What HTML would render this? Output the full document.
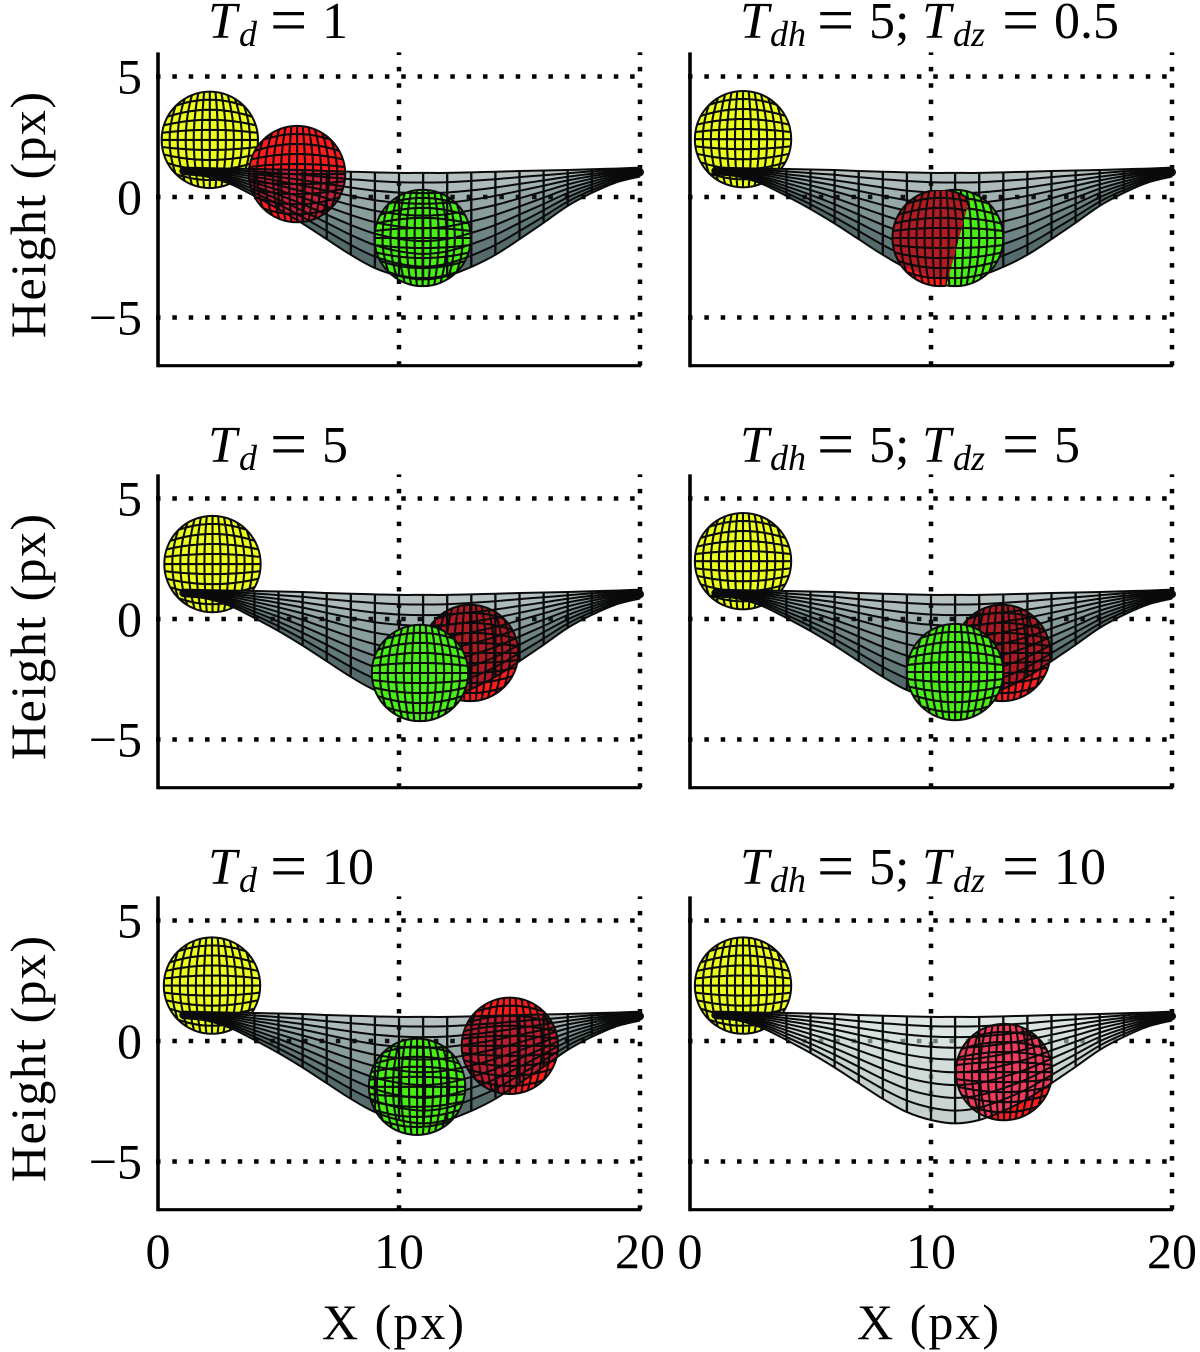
<!DOCTYPE html>
<html>
<head>
<meta charset="utf-8">
<title>Surface and spheres small multiples</title>
<style>
html,body{margin:0;padding:0;background:#fff;width:1200px;height:1352px;overflow:hidden}
svg{display:block}
text{font-family:"Liberation Serif","DejaVu Serif",serif;fill:#000}
.title{font-size:52px}
.title .i{font-style:italic}
.title .s{font-style:italic;font-size:36px}
.title .e{font-size:66px}
.tick{font-size:50px}
.label{font-size:50px}
</style>
</head>
<body>
<svg id="chart" xmlns="http://www.w3.org/2000/svg" width="1200" height="1352" viewBox="0 0 1200 1352">
  <rect width="1200" height="1352" fill="#fff"/>
  <g id="panels"></g>

  <text class="title" y="38"><tspan class="i" x="208">T</tspan><tspan class="s" x="239" dy="8">d</tspan><tspan class="e" x="270" dy="-4">=</tspan><tspan x="322" dy="-4">1</tspan></text>
  <text class="title" y="462"><tspan class="i" x="208">T</tspan><tspan class="s" x="239" dy="8">d</tspan><tspan class="e" x="270" dy="-4">=</tspan><tspan x="322" dy="-4">5</tspan></text>
  <text class="title" y="884"><tspan class="i" x="208">T</tspan><tspan class="s" x="239" dy="8">d</tspan><tspan class="e" x="270" dy="-4">=</tspan><tspan x="322" dy="-4">10</tspan></text>

  <text class="title" y="38"><tspan class="i" x="740">T</tspan><tspan class="s" x="770" dy="8">dh</tspan><tspan class="e" x="817" dy="-4">=</tspan><tspan x="869" dy="-4">5;</tspan><tspan class="i" x="922">T</tspan><tspan class="s" x="953" dy="8">dz</tspan><tspan class="e" x="1002" dy="-4">=</tspan><tspan x="1054" dy="-4">0.5</tspan></text>
  <text class="title" y="462"><tspan class="i" x="740">T</tspan><tspan class="s" x="770" dy="8">dh</tspan><tspan class="e" x="817" dy="-4">=</tspan><tspan x="869" dy="-4">5;</tspan><tspan class="i" x="922">T</tspan><tspan class="s" x="953" dy="8">dz</tspan><tspan class="e" x="1002" dy="-4">=</tspan><tspan x="1054" dy="-4">5</tspan></text>
  <text class="title" y="884"><tspan class="i" x="740">T</tspan><tspan class="s" x="770" dy="8">dh</tspan><tspan class="e" x="817" dy="-4">=</tspan><tspan x="869" dy="-4">5;</tspan><tspan class="i" x="922">T</tspan><tspan class="s" x="953" dy="8">dz</tspan><tspan class="e" x="1002" dy="-4">=</tspan><tspan x="1054" dy="-4">10</tspan></text>

  <text class="label" text-anchor="middle" textLength="246" transform="translate(45 215) rotate(-90)">Height (px)</text>
  <text class="label" text-anchor="middle" textLength="246" transform="translate(45 637) rotate(-90)">Height (px)</text>
  <text class="label" text-anchor="middle" textLength="246" transform="translate(45 1059) rotate(-90)">Height (px)</text>
  <text class="label" text-anchor="middle" textLength="142" x="393" y="1339">X (px)</text>
  <text class="label" text-anchor="middle" textLength="142" x="928" y="1339">X (px)</text>
</svg>

<script>
// ---- chart data ----
const xTickValues = [0, 10, 20];
const yTickValues = [5, 0, -5];
const yTickLabels = ['5', '0', '\u22125'];
const surfaceX = [1,2,3,4,5,6,7,8,9,10,11,12,13,14,15,16,17,18,19,20];
const surfaceTop = [1.22,1.2,1.18,1.16,1.14,1.12,1.08,1.05,1.02,1,1,1,1.02,1.05,1.08,1.1,1.12,1.15,1.18,1.22];
const surfaceBottom = [0.95,0.85,0.54,0.04,-0.5,-1.1,-1.75,-2.4,-2.95,-3.28,-3.42,-3.28,-2.9,-2.4,-1.75,-1.07,-0.37,0.17,0.6,0.85];
const surfaceRowFractions = [0,0.09,0.19,0.29,0.4,0.52,0.64,0.76,0.88,1];
const darkShades = ['#b6c2c2','#adbbbb','#a2b2b2','#96a8a8','#8a9d9d','#7d9191','#6f8484','#627777','#556a6a'];
const paleShades = ['#dfe7e5','#dce5e3','#d9e2e0','#d6e0dd','#d3dddb','#d0dbd8','#cdd8d5','#cad5d2','#c6d1cf'];

const panelCols = [0,1,0,1,0,1];
const panelRows = [0,0,1,1,2,2];
const panelNames = ['td-1','tdh-5-tdz-0-5','td-5','tdh-5-tdz-5','td-10','tdh-5-tdz-10'];
const panelPale = [false,false,false,false,false,true];

const yellowX = [2.15,2.2,2.26,2.2,2.24,2.2];
const yellowY = [2.37,2.4,2.28,2.4,2.3,2.3];
const redX = [5.77,10.4,12.95,12.95,14.6,13.03];
const redY = [0.95,-1.7,-1.41,-1.41,-0.2,-1.29];
const greenX = [10.98,11,10.87,11,10.75,null];
const greenY = [-1.7,-1.7,-2.24,-2.2,-1.9,null];
const sphereRadius = 2;
const redTint = ['#c4203a','#b01c22','#ae1a24','#ae1a24','#c01c30','#f03a5c'];
const redInFront = [false,true,false,false,false,false];
const greenShowsMesh = [true,false,false,false,true,false];
// line where the red and green spheres intersect in the second panel
const redCutTopX = 11.7, redCutTopY = 0.29, redCutBottomX = 10.58, redCutBottomY = -3.86;

// ---- axis geometry ----
const colX0 = [158, 690];
const rowY0 = [197, 619, 1041];
const unit = 24.1;
const SVGNS = 'http://www.w3.org/2000/svg';
const root = document.getElementById('panels');

function xScale(col, v){ return colX0[col] + v * unit; }
function yScale(row, v){ return rowY0[row] - v * unit; }

function make(tag, attrs, parent){
  const el = document.createElementNS(SVGNS, tag);
  for (const k in attrs) el.setAttribute(k, attrs[k]);
  parent.appendChild(el);
  return el;
}

function rowAt(i, f){
  return surfaceTop[i] + (surfaceBottom[i] - surfaceTop[i]) * f;
}

// smooth path through a mesh row, forward or reversed
function rowPath(col, row, f, reverse, start){
  let pts = surfaceX.map((x, i) => [xScale(col, x), yScale(row, rowAt(i, f))]);
  if (reverse) pts = pts.slice().reverse();
  let d = (start ? 'M' : 'L') + pts[0][0].toFixed(1) + ' ' + pts[0][1].toFixed(1);
  for (let i = 0; i < pts.length - 1; i++){
    const p0 = pts[Math.max(0, i - 1)], p1 = pts[i], p2 = pts[i + 1], p3 = pts[Math.min(pts.length - 1, i + 2)];
    const c1x = p1[0] + (p2[0] - p0[0]) / 6, c1y = p1[1] + (p2[1] - p0[1]) / 6;
    const c2x = p2[0] - (p3[0] - p1[0]) / 6, c2y = p2[1] - (p3[1] - p1[1]) / 6;
    d += 'C' + c1x.toFixed(1) + ' ' + c1y.toFixed(1) + ' ' + c2x.toFixed(1) + ' ' + c2y.toFixed(1) + ' ' + p2[0].toFixed(1) + ' ' + p2[1].toFixed(1);
  }
  return d;
}

function bandPath(col, row, f0, f1){
  return rowPath(col, row, f0, false, true) + rowPath(col, row, f1, true, false) + 'Z';
}

function drawGrid(g, col, row, colour, clip){
  const top = yScale(row, 6), bottom = yScale(row, -7), left = xScale(col, 0), right = xScale(col, 20);
  const grid = make('g', {stroke: colour, 'stroke-width': 4.5, 'stroke-dasharray': '4.5 11.85', fill: 'none'}, g);
  
  
  if (clip) grid.setAttribute('clip-path', clip);
  yTickValues.forEach(v => {
    make('line', {x1: left - 2, x2: right, y1: yScale(row, v), y2: yScale(row, v)}, grid);
  });
  xTickValues.slice(1).forEach(v => {
    make('line', {x1: xScale(col, v), x2: xScale(col, v), y1: bottom, y2: top}, grid);
  });
}

function drawSurfaceFill(g, col, row, shades){
  const fills = make('g', {}, g);
  
  
  for (let b = 0; b < surfaceRowFractions.length - 1; b++){
    make('path', {d: bandPath(col, row, surfaceRowFractions[b], surfaceRowFractions[b + 1]), fill: shades[b], stroke: shades[b], 'stroke-width': 0.6}, fills);
  }
}

function drawSurfaceLines(g, col, row){
  const lines = make('g', {stroke: '#0a0a0a', fill: 'none', 'stroke-linejoin': 'round'}, g);
  
  
  surfaceRowFractions.forEach(f => {
    make('path', {d: rowPath(col, row, f, false, true), 'stroke-width': 2}, lines);
  });
  surfaceX.forEach((x, i) => {
    make('line', {x1: xScale(col, x), x2: xScale(col, x), y1: yScale(row, surfaceTop[i]), y2: yScale(row, surfaceBottom[i]), 'stroke-width': 2.3}, lines);
  });
  // dense rim where the mesh converges at each end
  make('path', {d: 'M' + xScale(col, 1.05) + ' ' + yScale(row, 1.08) + 'L' + xScale(col, 2.2) + ' ' + yScale(row, 1.05) + 'L' + xScale(col, 3) + ' ' + yScale(row, 1.0), 'stroke-width': 8, 'stroke-linecap': 'round'}, lines);
  make('line', {x1: xScale(col, surfaceX[18] + 0.2), x2: xScale(col, surfaceX[19]), y1: yScale(row, 1.05), y2: yScale(row, 1.03), 'stroke-width': 8, 'stroke-linecap': 'round'}, lines);
}

// pillow-shaped graticule, clipped by the sphere's circle
function sphereMeshPath(cx, cy, r){
  const xStep = r / 6, yStep = r / 4.8;
  let d = '';
  for (let k = -6; k <= 6; k++){
    for (let j = 0; j <= 20; j++){
      const t = -1 + j / 10;
      const px = cx + k * xStep * (1 - 0.3 * t * t);
      d += (j ? 'L' : 'M') + px.toFixed(1) + ' ' + (cy + t * r).toFixed(1);
    }
  }
  for (let k = -4; k <= 4; k++){
    for (let j = 0; j <= 20; j++){
      const s = -1 + j / 10;
      const py = cy + k * yStep * (1 - 0.3 * s * s);
      d += (j ? 'L' : 'M') + (cx + s * r).toFixed(1) + ' ' + py.toFixed(1);
    }
  }
  return d;
}

let sphereCount = 0;
function drawSphere(parent, name, col, row, x, y, colour, tint, clipId, extraClip){
  const cx = xScale(col, x), cy = yScale(row, y), r = sphereRadius * unit;
  const s = make('g', {}, parent);
  
  
  if (extraClip) s.setAttribute('clip-path', extraClip);
  sphereCount++;
  const id = 'sphere-clip-' + sphereCount;
  const cp = make('clipPath', {id: id}, defs);
  make('circle', {cx: cx, cy: cy, r: r}, cp);
  make('circle', {cx: cx, cy: cy, r: r, fill: colour}, s);
  if (tint) make('circle', {cx: cx, cy: cy, r: r, fill: tint, 'clip-path': 'url(#' + clipId + ')'}, s);
  make('path', {d: sphereMeshPath(cx, cy, r), fill: 'none', stroke: '#0a0a0a', 'stroke-width': 2.1, 'clip-path': 'url(#' + id + ')'}, s);
  make('circle', {cx: cx, cy: cy, r: r, fill: 'none', stroke: '#0a0a0a', 'stroke-width': 2}, s);
  return s;
}

const defs = make('defs', {}, root);

panelNames.forEach((name, p) => {
  const col = panelCols[p], row = panelRows[p];
  const g = make('g', {}, root);
  
  

  const clipId = 'surface-clip-' + p;
  const cp = make('clipPath', {id: clipId}, defs);
  make('path', {d: bandPath(col, row, 0, 1)}, cp);

  drawGrid(g, col, row, '#000', null);
  drawSphere(g, 'sphere-yellow', col, row, yellowX[p], yellowY[p], '#ecff1c', null, clipId, null);
  drawSurfaceFill(g, col, row, panelPale[p] ? paleShades : darkShades);
  drawGrid(g, col, row, panelPale[p] ? '#6e7f7f' : '#111', 'url(#' + clipId + ')');

  if (!redInFront[p]) {
    drawSphere(g, 'sphere-red', col, row, redX[p], redY[p], '#ff1c1c', redTint[p], clipId, null);
  }
  if (greenX[p] !== null && greenShowsMesh[p]) {
    drawSphere(g, 'sphere-green', col, row, greenX[p], greenY[p], '#46f014', null, clipId, null);
  }
  drawSurfaceLines(g, col, row);
  if (greenX[p] !== null && !greenShowsMesh[p]) {
    drawSphere(g, 'sphere-green', col, row, greenX[p], greenY[p], '#46f014', null, clipId, null);
  }
  if (redInFront[p]) {
    const cutId = 'red-cut-' + p;
    const cut = make('clipPath', {id: cutId}, defs);
    const pts = [
      xScale(col, redCutTopX - 8) + ',' + yScale(row, redCutTopY),
      xScale(col, redCutTopX) + ',' + yScale(row, redCutTopY),
      xScale(col, redCutBottomX) + ',' + yScale(row, redCutBottomY),
      xScale(col, redCutBottomX - 8) + ',' + yScale(row, redCutBottomY)
    ];
    make('polygon', {points: pts.join(' ')}, cut);
    drawSphere(g, 'sphere-red', col, row, redX[p], redY[p], '#ff1c1c', redTint[p], clipId, 'url(#' + cutId + ')');
  }

  // axes
  const axes = make('g', {stroke: '#000', fill: 'none'}, g);
  
  
  const yAxis = make('line', {x1: xScale(col, 0), x2: xScale(col, 0), y1: yScale(row, 6), y2: yScale(row, -7) + 1.5, 'stroke-width': 3.6}, axes);
  
  
  const xAxis = make('line', {x1: xScale(col, 0), x2: xScale(col, 20) + 1, y1: yScale(row, -7), y2: yScale(row, -7), 'stroke-width': 3.2}, axes);
  
  

  // y ticks (left column only)
  if (col === 0) {
    yTickValues.forEach((v, i) => {
      const t = make('text', {x: 142, y: yScale(row, v) + 17, 'text-anchor': 'end', class: 'tick'}, g);
      
      
      t.textContent = yTickLabels[i];
    });
  }
  // x ticks (bottom row only)
  if (row === 2) {
    xTickValues.forEach(v => {
      const t = make('text', {x: xScale(col, v), y: 1268, 'text-anchor': 'middle', class: 'tick'}, g);
      
      
      t.textContent = String(v);
    });
  }
});
</script>
</body>
</html>
